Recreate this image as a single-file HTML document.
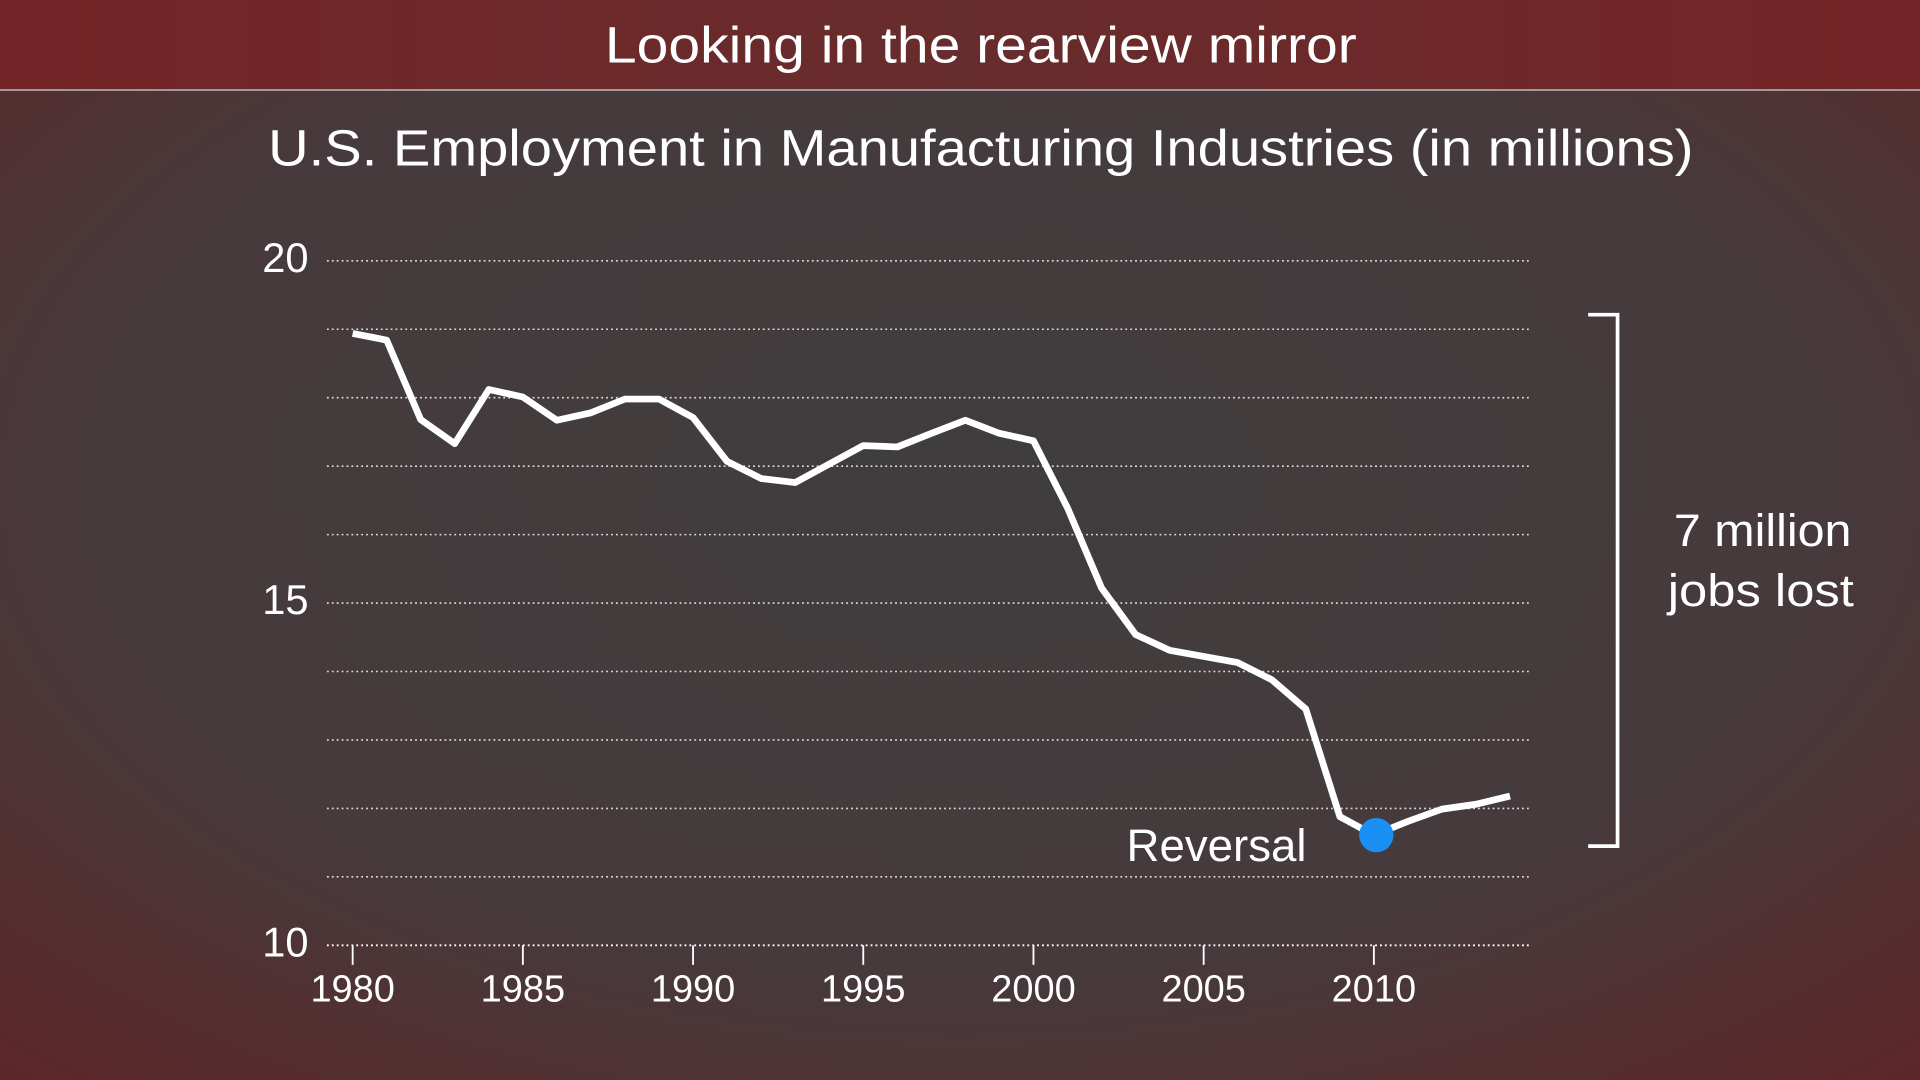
<!DOCTYPE html>
<html><head><meta charset="utf-8"><style>
html,body{margin:0;padding:0;width:1920px;height:1080px;overflow:hidden;background:#413b3c}
svg{display:block}
text{font-family:"Liberation Sans",sans-serif;fill:#fff}
</style></head><body>
<svg id="chart" width="1920" height="1080" viewBox="0 0 1568 882" preserveAspectRatio="none">
<defs>
<radialGradient id="bg" cx="50%" cy="45%" r="75%">
<stop offset="0" stop-color="#3f3d3e"/><stop offset="0.6" stop-color="#463a3c"/><stop offset="1" stop-color="#5e2628"/>
</radialGradient>
<linearGradient id="tb" x1="0" x2="1" y1="0" y2="0">
<stop offset="0" stop-color="#742426"/><stop offset="0.5" stop-color="#672c2d"/><stop offset="1" stop-color="#742426"/>
</linearGradient>
</defs>
<rect x="0" y="0" width="1568" height="882" fill="url(#bg)"/>
<rect x="0" y="0" width="1568" height="73" fill="url(#tb)"/>
<line x1="0" y1="73.5" x2="1568" y2="73.5" stroke="#aaa" stroke-width="1.5"/>
<text x="494" y="51" font-size="42" textLength="614" lengthAdjust="spacingAndGlyphs">Looking in the rearview mirror</text>
<text x="219" y="135" font-size="42" textLength="1164" lengthAdjust="spacingAndGlyphs">U.S. Employment in Manufacturing Industries (in millions)</text>
<g id="grid"></g><g id="axes"></g>
<path id="line" fill="none" stroke="#fff" stroke-width="5.5" stroke-linejoin="round"/>
<circle id="dot" r="14" fill="#1a90f5"/>
<text x="920" y="703" font-size="37" textLength="147" lengthAdjust="spacingAndGlyphs">Reversal</text>
<path d="M1297 257 H1321 V691 H1297" fill="none" stroke="#fff" stroke-width="3"/>
<text font-size="37"><tspan x="1367" y="446" textLength="145" lengthAdjust="spacingAndGlyphs">7 million</tspan><tspan x="1362" y="495" textLength="152" lengthAdjust="spacingAndGlyphs">jobs lost</tspan></text>
</svg>
<script>
const years=[1980,1981,1982,1983,1984,1985,1986,1987,1988,1989,1990,1991,1992,1993,1994,1995,1996,1997,1998,1999,2000,2001,2002,2003,2004,2005,2006,2007,2008,2009,2010,2011,2012,2013,2014];
const values=[18.94,18.84,17.68,17.33,18.12,18.01,17.67,17.78,17.98,17.98,17.71,17.07,16.82,16.76,17.03,17.30,17.28,17.48,17.67,17.48,17.37,16.39,15.22,14.54,14.31,14.22,14.13,13.88,13.45,11.88,11.61,11.81,11.99,12.06,12.18];
const yTicks=[10,15,20];
const gridVals=[11,12,13,14,15,16,17,18,19,20];
const xTicks=[1980,1985,1990,1995,2000,2005,2010];
const reversalYear=2010;
const NS="http://www.w3.org/2000/svg";
const x=v=>288+(v-1980)*(834/30);
const y=v=>772-(v-10)*55.9;
const grid=document.getElementById('grid'),axes=document.getElementById('axes');
function mk(t,a,p){const e=document.createElementNS(NS,t);for(const k in a)e.setAttribute(k,a[k]);p.appendChild(e);return e;}
mk('line',{x1:267,x2:1251,y1:y(10),y2:y(10),stroke:'#fff','stroke-width':1.5,'stroke-dasharray':'1.5 2.5'},grid);
gridVals.forEach(g=>{const l=mk('line',{x1:267,x2:1251,y1:y(g),y2:y(g),stroke:'#ddd','stroke-width':1.3,'stroke-dasharray':'1.5 2.5'},grid);

});
yTicks.forEach(t=>{const e=mk('text',{x:252,y:y(t)+9,'text-anchor':'end','font-size':34},axes);e.textContent=t;

});
xTicks.forEach(t=>{mk('line',{x1:x(t),x2:x(t),y1:772,y2:788,stroke:'#fff','stroke-width':1.5},axes);
const e=mk('text',{x:x(t),y:818,'text-anchor':'middle','font-size':31},axes);e.textContent=t;

});
document.getElementById('line').setAttribute('d',years.map((yr,i)=>(i?'L':'M')+x(yr).toFixed(1)+' '+y(values[i]).toFixed(1)).join(' '));
const ri=years.indexOf(reversalYear);
const d=document.getElementById('dot');d.setAttribute('cx',x(reversalYear)+2);d.setAttribute('cy',y(values[ri]));
</script>
</body></html>
